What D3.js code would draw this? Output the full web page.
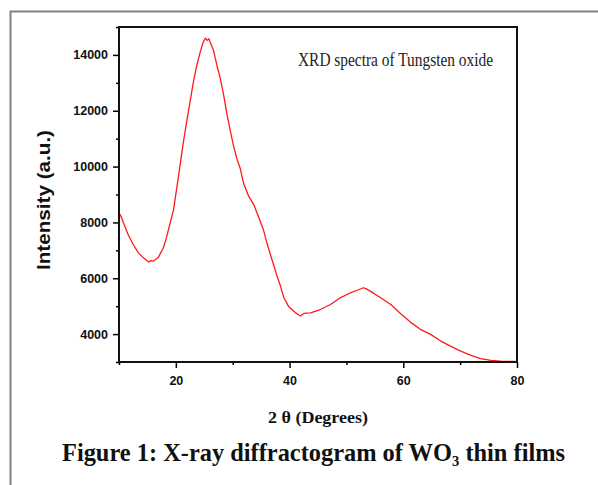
<!DOCTYPE html>
<html>
<head>
<meta charset="utf-8">
<script src="https://cdn.jsdelivr.net/npm/d3@7"></script>
<style>
  body { margin: 0; background: #fff; }
  svg { display: block; }
</style>
</head>
<body>
<div id="chart"></div>
<script>
// values
var twoTheta = [10.0, 10.4, 10.8, 11.6, 12.5, 13.4, 14.3, 15.2, 15.6, 16.0, 16.5, 16.9, 17.8, 18.4, 19.0,
  19.6, 19.9, 20.5, 21.3, 21.9, 22.5, 23.1, 23.7, 24.3, 24.8, 25.2, 25.5, 25.8, 26.0, 26.6, 27.2,
  27.8, 28.4, 29.0, 29.6, 30.1, 30.7, 31.3, 31.9, 32.8, 33.7, 34.5, 35.4, 36.0, 36.9, 37.8, 38.4,
  39.0, 39.8, 41.0, 41.9, 42.5, 43.7, 45.4, 47.2, 48.9, 50.7, 51.9, 53.0, 53.5, 54.2, 56.0, 57.8,
  59.5, 61.3, 63.0, 64.8, 66.6, 68.3, 70.1, 71.9, 73.6, 75.4, 77.1, 79.5, 80.0];
var intensity = [8340, 8200, 7980, 7570, 7210, 6910, 6730, 6580, 6630, 6610, 6680, 6740, 7090, 7500, 7980,
  8460, 8880, 9700, 10850, 11600, 12330, 13050, 13640, 14120, 14450, 14600, 14520, 14580, 14470, 14180, 13640,
  13170, 12570, 11860, 11260, 10780, 10300, 9950, 9410, 8940, 8640, 8220, 7740, 7270, 6670, 6080, 5720,
  5300, 5000, 4770, 4650, 4740, 4760, 4880, 5060, 5300, 5480, 5570, 5660, 5620, 5540, 5300, 5060,
  4740, 4420, 4170, 3990, 3750, 3570, 3390, 3240, 3120, 3060, 3030, 3020, 3010];
var xTicks = [20, 40, 60, 80];
var xMinor = [10, 30, 50, 70];
var yTicks = [4000, 6000, 8000, 10000, 12000, 14000];
var yMinor = [3000, 5000, 7000, 9000, 11000, 13000, 15000];

var W = 598, H = 485;
var margin = {top: 27, right: 81, bottom: 123, left: 119};
var width = W - margin.left - margin.right,
    height = H - margin.top - margin.bottom;

var svg = d3.select("#chart")
  .append("svg")
    .attr("width", W)
    .attr("height", H);

// page frame (top + left edges of the cropped figure)
svg.append("path")
  .attr("d", "M10.5,485 V11.5 H598")
  .attr("fill", "none")
  .attr("stroke", "#808080")
  .attr("stroke-width", 2);

var g = svg.append("g")
  .attr("transform", "translate(" + margin.left + "," + margin.top + ")");

var x = d3.scaleLinear().domain([10, 80]).range([0, width]);
var y = d3.scaleLinear().domain([3000, 15000]).range([height, 0]);

var labelFont = "'Liberation Sans', Arial, sans-serif";

function styleAxis(sel) {
  sel.select(".domain").remove();
  sel.selectAll(".tick line").attr("stroke", "#000").attr("stroke-width", 1.5);
  sel.selectAll(".tick text")
    .attr("fill", "#111")
    .style("font-family", labelFont)
    .style("font-weight", "bold")
    .style("font-size", "12.5px");
}

// minor ticks
g.append("g")
  .attr("transform", "translate(0," + height + ")")
  .call(d3.axisBottom(x).tickValues(xMinor).tickSize(3).tickFormat(""))
  .call(styleAxis);
g.append("g")
  .call(d3.axisLeft(y).tickValues(yMinor).tickSize(3).tickFormat(""))
  .call(styleAxis);

// major ticks
g.append("g")
  .attr("transform", "translate(0," + height + ")")
  .call(d3.axisBottom(x).tickValues(xTicks).tickSize(6).tickPadding(8).tickSizeOuter(0).tickFormat(d3.format("d")))
  .call(styleAxis);
g.append("g")
  .call(d3.axisLeft(y).tickValues(yTicks).tickSize(6).tickPadding(5).tickSizeOuter(0).tickFormat(d3.format("d")))
  .call(styleAxis);

// curve
var pts = twoTheta.map(function(d, i) { return [d, intensity[i]]; });
var line = d3.line()
  .x(function(d) { return x(d[0]); })
  .y(function(d) { return y(d[1]); });

g.append("path")
  .datum(pts)
  .attr("fill", "none")
  .attr("stroke", "#ff1a1a")
  .attr("stroke-width", 1.3)
  .attr("stroke-linejoin", "round")
  .attr("d", line);

// plot frame
g.append("rect")
  .attr("width", width)
  .attr("height", height)
  .attr("fill", "none")
  .attr("stroke", "#111")
  .attr("stroke-width", 2);

// annotation inside plot
g.append("text")
  .attr("x", 298 - margin.left)
  .attr("y", 66 - margin.top)
  .attr("textLength", 195)
  .attr("lengthAdjust", "spacingAndGlyphs")
  .style("font-family", "'Liberation Serif', 'Times New Roman', serif")
  .style("font-size", "18px")
  .attr("fill", "#222")
  .text("XRD spectra of Tungsten oxide");

// y axis title
svg.append("text")
  .attr("transform", "translate(50,200) rotate(-90)")
  .attr("text-anchor", "middle")
  .attr("textLength", 140)
  .attr("lengthAdjust", "spacingAndGlyphs")
  .style("font-family", labelFont)
  .style("font-weight", "bold")
  .style("font-size", "18px")
  .attr("fill", "#111")
  .text("Intensity (a.u.)");

// x axis title
svg.append("text")
  .attr("x", 318)
  .attr("y", 423)
  .attr("text-anchor", "middle")
  .attr("textLength", 100)
  .attr("lengthAdjust", "spacingAndGlyphs")
  .style("font-family", "'Liberation Serif', 'Times New Roman', serif")
  .style("font-weight", "bold")
  .style("font-size", "17px")
  .attr("fill", "#111")
  .text("2 θ (Degrees)");

// figure caption
svg.append("text")
  .attr("x", 62)
  .attr("y", 461)
  .attr("textLength", 503)
  .attr("lengthAdjust", "spacingAndGlyphs")
  .style("font-family", "'Liberation Serif', 'Times New Roman', serif")
  .style("font-weight", "bold")
  .style("font-size", "25px")
  .attr("fill", "#111")
  .text("Figure 1: X-ray diffractogram of WO₃ thin films");
</script>
</body>
</html>
